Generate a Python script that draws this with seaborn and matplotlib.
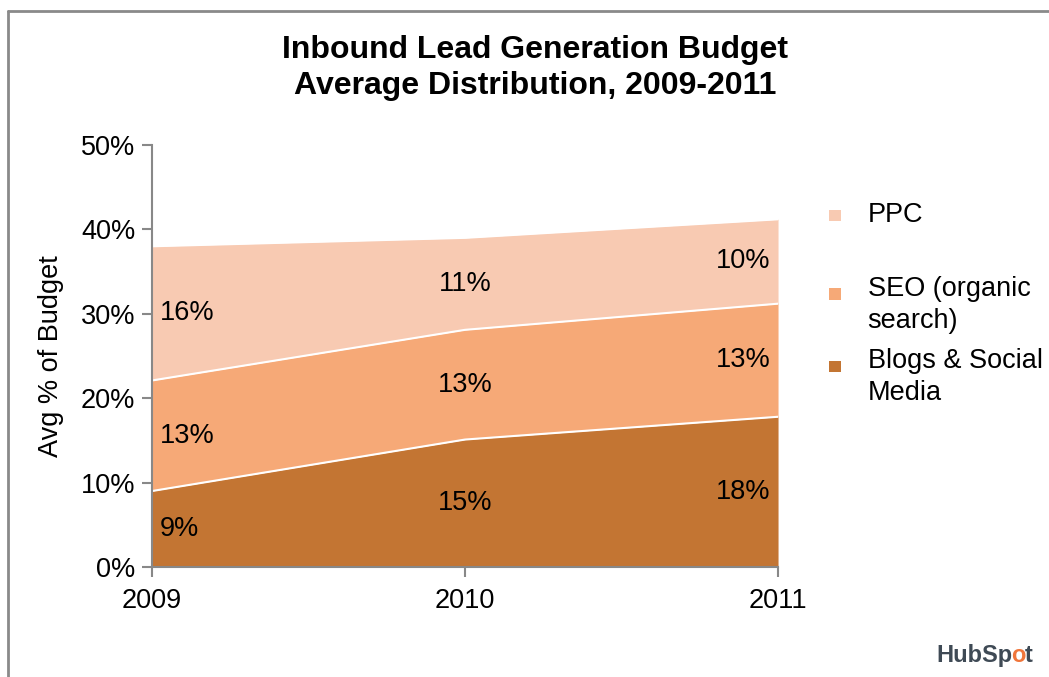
"""Inbound lead generation budget, stacked area chart."""
import matplotlib
matplotlib.use("Agg")
import matplotlib.pyplot as plt
from matplotlib.patches import Rectangle
import numpy as np
import pandas as pd
import seaborn as sns

years = [2009, 2010, 2011]
blogs = [9.0, 15.1, 17.8]
seo = [13.1, 13.0, 13.4]
ppc = [15.9, 10.9, 10.0]
blog_labels = ["9%", "15%", "18%"]
seo_labels = ["13%", "13%", "13%"]
ppc_labels = ["16%", "11%", "10%"]
series_names = ["Blogs & Social\nMedia", "SEO (organic\nsearch)", "PPC"]
colors = ["#C37533", "#F6A977", "#F8CAB2"]

sns.set_style("white")
plt.rcParams["font.family"] = ["Liberation Sans", "DejaVu Sans"]
plt.rcParams["text.color"] = "black"
plt.rcParams["axes.labelcolor"] = "black"
plt.rcParams["xtick.color"] = "black"
plt.rcParams["ytick.color"] = "black"

FS = 19.5

df = pd.DataFrame({"year": years, "blogs": blogs, "seo": seo, "ppc": ppc})
df["b_top"] = df["blogs"]
df["s_top"] = df["blogs"] + df["seo"]
df["p_top"] = df["s_top"] + df["ppc"]

fig = plt.figure(figsize=(10.49, 6.77), dpi=100)
ax = fig.add_axes([0.1449, 0.1625, 0.5968, 0.6233])

ax.fill_between(df["year"], 0, df["b_top"], color=colors[0], lw=0)
ax.fill_between(df["year"], df["b_top"], df["s_top"], color=colors[1], lw=0)
ax.fill_between(df["year"], df["s_top"], df["p_top"], color=colors[2], lw=0)
for col in ["b_top", "s_top", "p_top"]:
    sns.lineplot(data=df, x="year", y=col, ax=ax, color="white", lw=1.5)

# segment labels at mid-height
bottoms = [np.zeros(3), df["b_top"].to_numpy(), df["s_top"].to_numpy()]
vals = [blogs, seo, ppc]
labs = [blog_labels, seo_labels, ppc_labels]
for b, v, lab in zip(bottoms, vals, labs):
    for i, yr in enumerate(years):
        ha = ["left", "center", "right"][i]
        dx = [0.025, 0, -0.025][i]
        ax.text(yr + dx, b[i] + v[i] / 2, lab[i], ha=ha, va="center", fontsize=FS)

ax.set_xlim(2009, 2011)
ax.set_ylim(0, 50)
ax.set_xticks(years)
ax.set_xticklabels([str(y) for y in years])
ax.set_yticks(range(0, 51, 10))
ax.set_yticklabels([f"{t}%" for t in range(0, 51, 10)])
ax.tick_params(axis="both", labelsize=FS, direction="out", length=7, width=1.5,
               color="#888888", left=True, bottom=True, pad=5)
ax.tick_params(axis="x", pad=8)
ax.set_xlabel("")
ax.set_ylabel("Avg % of Budget", fontsize=FS, labelpad=12)
for side in ["top", "right"]:
    ax.spines[side].set_visible(False)
for side in ["left", "bottom"]:
    ax.spines[side].set_color("#888888")
    ax.spines[side].set_linewidth(1.5)

fig.text(0.51, 0.9, "Inbound Lead Generation Budget\nAverage Distribution, 2009-2011",
         ha="center", va="center", fontsize=23, fontweight="bold", linespacing=1.25)

# legend drawn by hand
leg_y = [0.682, 0.566, 0.459]
for name, c, y in zip(series_names[::-1], colors[::-1], leg_y):
    fig.patches.append(Rectangle((0.79, y - 0.009), 0.0115, 0.0175, transform=fig.transFigure,
                                 facecolor=c, edgecolor="none"))
    if "\n" in name:
        fig.text(0.827, y + 0.027, name, ha="left", va="top", fontsize=FS, linespacing=1.3)
    else:
        fig.text(0.827, y, name, ha="left", va="center", fontsize=FS)

# outer frame
frame_kw = dict(transform=fig.transFigure, color="#8a8a8a", lw=2)
fig.add_artist(plt.Line2D([0.0075, 0.0075], [0.0, 0.984], **frame_kw))
fig.add_artist(plt.Line2D([0.0075, 1.0], [0.984, 0.984], **frame_kw))

# HubSpot logo text
t1 = fig.text(0.893, 0.022, "HubSp", ha="left", va="baseline", fontsize=17,
              fontweight="bold", color="#3f4a55")
t2 = ax.annotate("o", xy=(1, 0), xycoords=t1, xytext=(-1, 0), textcoords="offset points",
                 va="bottom", ha="left", fontsize=17, fontweight="bold", color="#f0753a",
                 annotation_clip=False)
ax.annotate("t", xy=(1, 0), xycoords=t2, xytext=(-1, 0), textcoords="offset points",
            va="bottom", ha="left", fontsize=17, fontweight="bold", color="#3f4a55",
            annotation_clip=False)

fig.savefig("out.png", dpi=100)
